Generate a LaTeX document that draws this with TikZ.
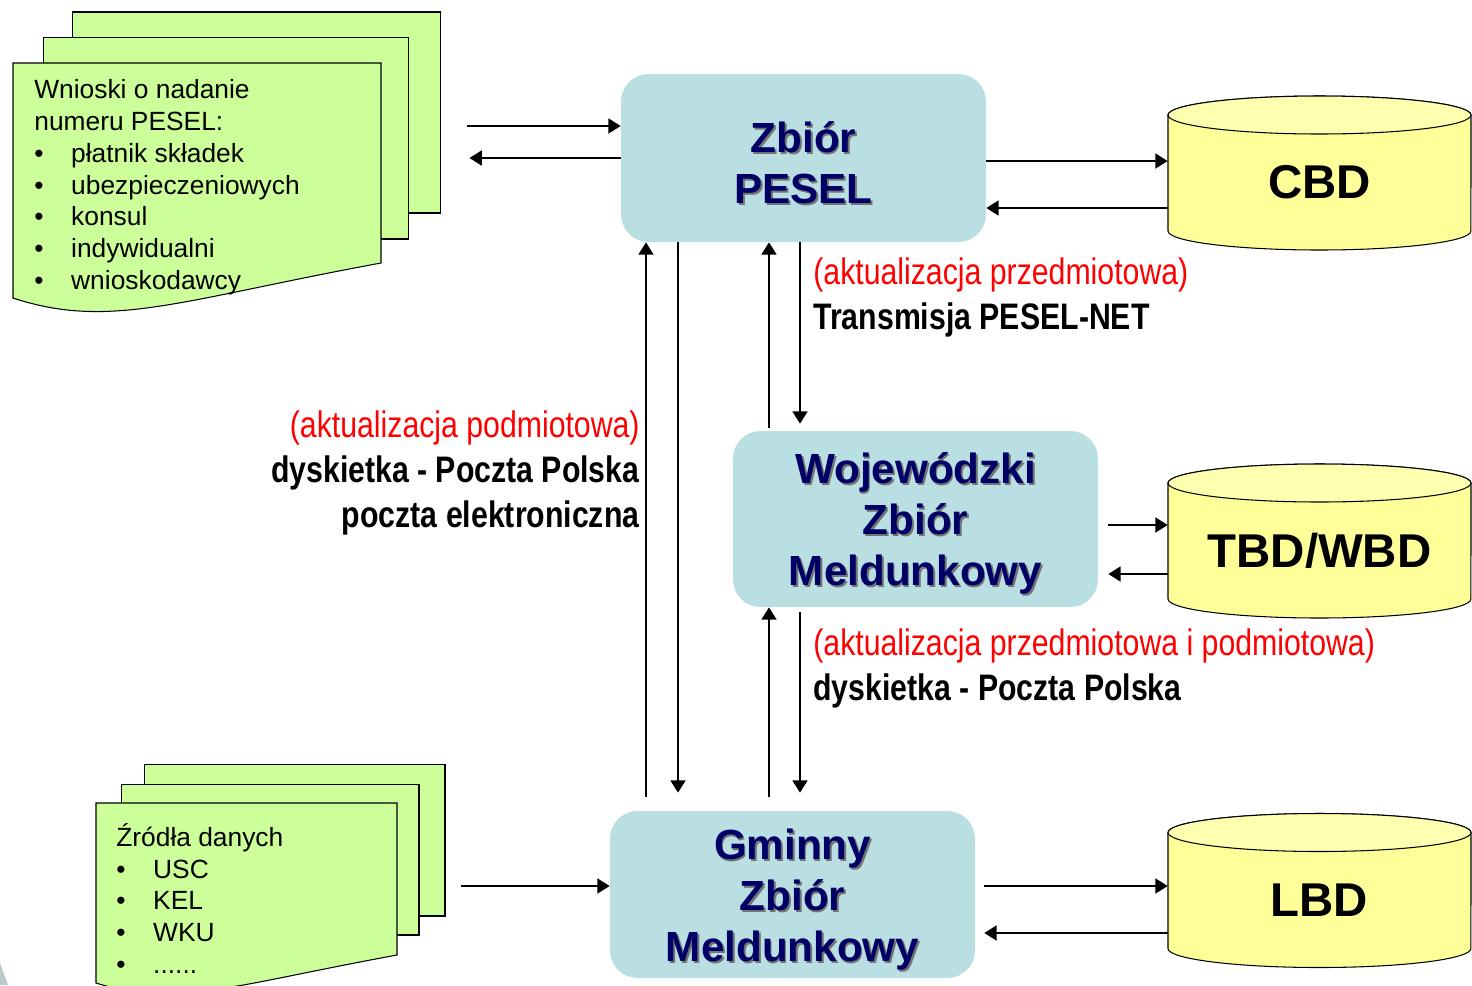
\documentclass[tikz,border=0pt]{standalone}
\usepackage{fontspec}
\setmainfont{Liberation Sans}
\newfontfamily\narrowfont[FakeStretch=0.82]{Liberation Sans}
\usetikzlibrary{arrows.meta,positioning}

\definecolor{boxblue}{HTML}{B9DFE3}
\definecolor{titlenavy}{HTML}{000066}
\definecolor{sheetgreen}{HTML}{CCFF99}
\definecolor{dbyellow}{HTML}{FFFF99}
\definecolor{dbtop}{HTML}{FFFFB0}
\definecolor{cornergrey}{HTML}{B8CACA}

\newcommand{\shd}[1]{\makebox[0pt][l]{\kern1.1pt\raisebox{-1.1pt}{\color{black!55}#1}}#1}
\newcommand{\gora}{\rule{0pt}{24pt}}
\newcommand{\pkt}{\makebox[21pt][l]{\textbullet}}

\begin{document}
\begin{tikzpicture}
  [x=0.02cm,y=-0.02cm,
   every node/.style={inner sep=0pt},
   zbior/.style={rectangle,rounded corners=0.55cm,fill=boxblue,minimum width=7.3cm,
     align=center,font=\fontsize{24}{29}\selectfont\bfseries,text=titlenavy},
   baza/.style={minimum width=6.06cm,minimum height=1.94cm,
     font=\fontsize{27}{32}\selectfont\bfseries},
   sheet/.style={draw,fill=sheetgreen,line width=0.6pt},
   doctext/.style={anchor=base west,align=left,font=\fontsize{15}{18.1}\selectfont},
   opis/.style={font=\narrowfont\fontsize{21}{25.5}\selectfont},
   arr/.style={line width=1.1pt,-{Triangle[length=7pt,width=8.5pt]}}
  ]

  \useasboundingbox (0,0) rectangle (1472,985);
  \fill[cornergrey] (0,963) -- (8,985) -- (0,985) -- cycle;

  % wnioski
  \node[sheet,minimum width=7.38cm,minimum height=4.02cm] (wnC) at (256.5,112.5) {};
  \node[sheet,minimum width=7.32cm,minimum height=4.04cm] (wnB) at (226,138) {};
  \draw[sheet] (13,63) -- (381,63) -- (381,263)
    .. controls (180,300) and (110,330) .. (13,298) -- cycle;
  \node[doctext] (wnioski) at (34,289.5) {Wnioski o nadanie\\numeru PESEL:\\
    \pkt płatnik składek\\\pkt ubezpieczeniowych\\\pkt konsul\\
    \pkt indywidualni\\\pkt wnioskodawcy};

  % zrodla
  \node[sheet,minimum width=6.02cm,minimum height=3.04cm] (srcC) at (294.5,840) {};
  \node[sheet,minimum width=5.96cm,minimum height=3.02cm] (srcB) at (270,859.5) {};
  \draw[sheet] (96,803) -- (397,803) -- (397,955)
    .. controls (233,985) and (176,1008) .. (96,983) -- cycle;
  \node[doctext] (zrodla) at (116,973.5) {Źródła danych\\\pkt USC\\\pkt KEL\\
    \pkt WKU\\\pkt ......};

  % zbiory
  \node[zbior,minimum height=3.36cm] (pesel) at (803.5,158)
    {\gora\shd{Zbiór}\\\shd{PESEL}};
  \node[zbior,minimum height=3.52cm] (woj) at (915.5,519)
    {\gora\shd{Wojewódzki}\\\shd{Zbiór}\\\shd{Meldunkowy}};
  \node[zbior,minimum height=3.34cm] (gmina) at (792.5,894.5)
    {\gora\shd{Gminny}\\\shd{Zbiór}\\\shd{Meldunkowy}};

  % bazy
  \foreach \cy/\nm/\txt in {182.5/cbd/CBD,550.5/tbd/{TBD/WBD},900/lbd/LBD}{
    \draw[fill=dbyellow,line width=0.6pt] (1168,\cy-67.5) -- (1168,\cy+48.5)
      arc[start angle=180,end angle=360,x radius=3.03cm,y radius=0.38cm]
      -- (1471,\cy-67.5)
      arc[start angle=0,end angle=180,x radius=3.03cm,y radius=0.38cm] -- cycle;
    \draw[fill=dbtop,line width=0.6pt] (1319.5,\cy-67.5) ellipse[x radius=3.03cm,y radius=0.38cm];
    \node[baza] (\nm) at (1319.5,\cy) {\txt};
  }

  % opisy
  \node[opis,anchor=base west,align=left] (opisA) at (813,329)
    {\textcolor{red}{(aktualizacja przedmiotowa)}\\\textbf{Transmisja PESEL-NET}};
  \node[opis,anchor=base east,align=right] (opisB) at (640,527)
    {\textcolor{red}{(aktualizacja podmiotowa)}\\\textbf{dyskietka - Poczta Polska}\\
     \textbf{poczta elektroniczna}};
  \node[opis,anchor=base west,align=left] (opisC) at (813,700)
    {\textcolor{red}{(aktualizacja przedmiotowa i podmiotowa)}\\\textbf{dyskietka - Poczta Polska}};

  % polaczenia
  \draw[arr,shorten <=0.52cm] (wnC.east |- 0,126) -- (pesel.west |- 0,126);
  \draw[arr,shorten >=0.56cm] (pesel.west) -- (wnC.east |- pesel.west);
  \draw[arr] (pesel.east |- 0,161) -- (cbd.west |- 0,161);
  \draw[arr] (cbd.west |- 0,208) -- (pesel.east |- 0,208);
  \draw[arr,shorten <=0.28cm] (gmina.north -| 646,0) -- (pesel.south -| 646,0);
  \draw[arr,shorten >=0.36cm] (pesel.south -| 678,0) -- (gmina.north -| 678,0);
  \draw[arr,shorten <=0.06cm] (woj.north -| 769,0) -- (pesel.south -| 769,0);
  \draw[arr,shorten >=0.14cm] (pesel.south -| 800,0) -- (woj.north -| 800,0);
  \draw[arr,shorten <=0.28cm] (gmina.north -| 769,0) -- (woj.south -| 769,0);
  \draw[arr,shorten <=0.1cm,shorten >=0.36cm] (woj.south -| 800,0) -- (gmina.north -| 800,0);
  \draw[arr,shorten <=0.2cm] (woj.east |- 0,525) -- (tbd.west |- 0,525);
  \draw[arr,shorten >=0.2cm] (tbd.west |- 0,574) -- (woj.east |- 0,574);
  \draw[arr,shorten <=0.32cm] (srcC.east |- 0,886) -- (gmina.west |- 0,886);
  \draw[arr,shorten <=0.18cm] (gmina.east |- 0,886) -- (lbd.west |- 0,886);
  \draw[arr,shorten >=0.18cm] (lbd.west |- 0,933) -- (gmina.east |- 0,933);

\end{tikzpicture}
\end{document}
